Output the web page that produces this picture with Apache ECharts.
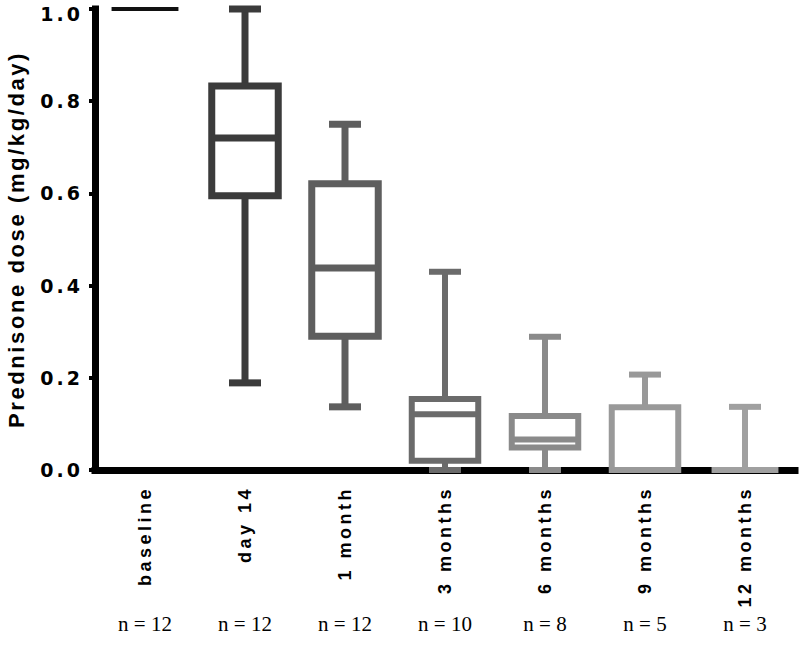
<!DOCTYPE html>
<html><head><meta charset="utf-8">
<script src="https://cdn.jsdelivr.net/npm/echarts@6/dist/echarts.min.js"></script>
<style>
html,body{margin:0;padding:0;background:#fff;}
#chart{width:800px;height:647px;}
#chart text[style*="18px"]{letter-spacing:3.5px;}
#chart text[style*="19px"]{letter-spacing:3px;}
#chart text[style*="22px"]{letter-spacing:2.6px;}
</style></head><body><div id="chart"></div>
<script>
// ---- data ----
const categories = ['baseline', 'day 14', '1 month', '3 months', '6 months', '9 months', '12 months'];
const sampleSizes = ['n = 12', 'n = 12', 'n = 12', 'n = 10', 'n = 8', 'n = 5', 'n = 3'];
const minValues    = [1.0, 0.189, 0.137, 0.000, 0.000, 0.000, 0.000];
const q1Values     = [1.0, 0.595, 0.290, 0.020, 0.049, 0.000, 0.000];
const medianValues = [1.0, 0.720, 0.438, 0.121, 0.066, 0.000, 0.000];
const q3Values     = [1.0, 0.833, 0.621, 0.154, 0.117, 0.136, 0.000];
const maxValues    = [1.0, 1.000, 0.750, 0.430, 0.289, 0.207, 0.137];
const yMin = 0, yMax = 1.0, yStep = 0.2;

// ---- styles ----
const boxColors = ['#111111', '#3b3b3b', '#5e5e5e', '#6b6b6b', '#8a8a8a', '#999999', '#a0a0a0'];
const boxLineWidths = [4, 7, 7, 6, 6, 6, 6];
const boxFrac = 0.665, capFrac = 0.32;

const seriesData = categories.map((c, i) => [i, minValues[i], q1Values[i], medianValues[i], q3Values[i], maxValues[i]]);

function renderItem(params, api) {
  const i = api.value(0);
  const band = api.size([1, 0])[0];
  const cx = api.coord([i, 0])[0];
  const yLo = api.coord([i, api.value(1)])[1];
  const yQ1 = api.coord([i, api.value(2)])[1];
  const yMed = api.coord([i, api.value(3)])[1];
  const yQ3 = api.coord([i, api.value(4)])[1];
  const yHi = api.coord([i, api.value(5)])[1];
  const hw = band * boxFrac / 2, cw = band * capFrac / 2;
  const st = { stroke: boxColors[i], lineWidth: boxLineWidths[i], fill: null, lineCap: 'butt' };
  const children = [];
  if (yHi < yQ3) {
    children.push({ type: 'line', shape: { x1: cx, y1: yQ3, x2: cx, y2: yHi }, style: st });
    children.push({ type: 'line', shape: { x1: cx - cw, y1: yHi, x2: cx + cw, y2: yHi }, style: st });
  }
  if (yLo > yQ1) {
    children.push({ type: 'line', shape: { x1: cx, y1: yQ1, x2: cx, y2: yLo }, style: st });
  }
  if (yLo > yQ1 || i > 1) {
    children.push({ type: 'line', shape: { x1: cx - cw, y1: yLo, x2: cx + cw, y2: yLo }, style: st });
  }
  children.push({ type: 'rect', shape: { x: cx - hw, y: yQ3, width: hw * 2, height: yQ1 - yQ3 }, style: Object.assign({}, st, { lineJoin: 'miter' }) });
  children.push({ type: 'line', shape: { x1: cx - hw, y1: yMed, x2: cx + hw, y2: yMed }, style: st });
  return { type: 'group', children: children };
}

const yLabelFont = { color: '#000', fontSize: 19, fontWeight: 'bold', fontFamily: 'DejaVu Sans' };

const chart = echarts.init(document.getElementById('chart'), null, { renderer: 'svg' });
chart.setOption({
  animation: false,
  backgroundColor: '#ffffff',
  grid: { left: 95, right: 5, top: 9, bottom: 177, containLabel: false, outerBoundsMode: 'none' },
  xAxis: [{
    type: 'category', data: categories, boundaryGap: true, offset: 3, z: 1,
    axisLine: { lineStyle: { color: '#000', width: 7, cap: 'square' } },
    axisTick: { alignWithLabel: true, length: 10, lineStyle: { color: '#000', width: 6 } },
    axisLabel: { rotate: 90, interval: 0, margin: 13, color: '#000', fontSize: 18, fontWeight: 'bold', fontFamily: 'Liberation Sans' },
    splitLine: { show: false }
  }, {
    type: 'category', data: sampleSizes, position: 'bottom', boundaryGap: true,
    axisLine: { show: false }, axisTick: { show: false },
    axisLabel: { interval: 0, margin: 143, color: '#000', fontSize: 21, fontFamily: 'Liberation Serif' },
    splitLine: { show: false }
  }],
  yAxis: {
    type: 'value', min: yMin, max: yMax, interval: yStep, z: 1,
    name: 'Prednisone dose (mg/kg/day)', nameLocation: 'middle', nameGap: 68,
    nameTextStyle: { color: '#000', fontSize: 22, fontWeight: 'bold', fontFamily: 'Liberation Sans' },
    axisLine: { show: true, lineStyle: { color: '#000', width: 7, cap: 'square' } },
    axisTick: { show: true, length: 6, lineStyle: { color: '#000', width: 4 } },
    axisLabel: Object.assign({
      margin: 12,
      formatter: v => (v >= yMax ? '{top|' + v.toFixed(1) + '}' : v.toFixed(1)),
      rich: { top: Object.assign({ padding: [10, 0, 0, 0] }, yLabelFont) }
    }, yLabelFont),
    splitLine: { show: false }
  },
  series: [{
    type: 'custom', xAxisIndex: 0, yAxisIndex: 0, z: 5,
    renderItem: renderItem,
    encode: { x: 0, y: [1, 2, 3, 4, 5] },
    data: seriesData
  }]
});
</script></body></html>
